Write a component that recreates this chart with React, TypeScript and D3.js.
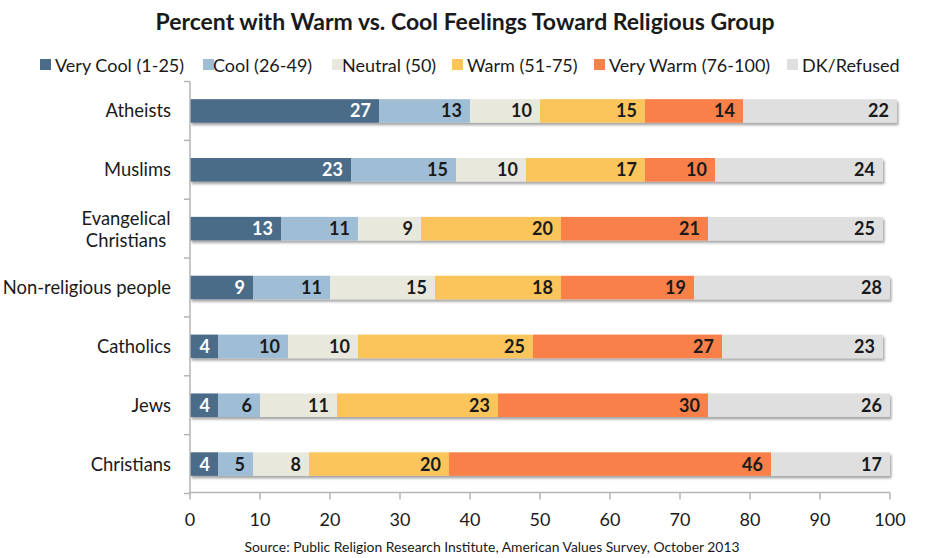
import React from "react";
import * as d3 from "d3";

const categories = ["Atheists", "Muslims", "Evangelical Christians", "Non-religious people", "Catholics", "Jews", "Christians"];
const seriesNames = ["Very Cool (1-25)", "Cool (26-49)", "Neutral (50)", "Warm (51-75)", "Very Warm (76-100)", "DK/Refused"];
const veryCool = [27, 23, 13, 9, 4, 4, 4];
const cool = [13, 15, 11, 11, 10, 6, 5];
const neutral = [10, 10, 9, 15, 10, 11, 8];
const warm = [15, 17, 20, 18, 25, 23, 20];
const veryWarm = [14, 10, 21, 19, 27, 30, 46];
const dkRefused = [22, 24, 25, 28, 23, 26, 17];
const xTicks = [0, 10, 20, 30, 40, 50, 60, 70, 80, 90, 100];
const colors = ["#4b6c88", "#9fbed6", "#e9e8dc", "#fbc55c", "#f9804a", "#dfdfdf"];
const labelColors = ["#ffffff", "#1a1a1a", "#1a1a1a", "#1a1a1a", "#1a1a1a", "#1a1a1a"];

const series = [veryCool, cool, neutral, warm, veryWarm, dkRefused];
const FONT = "Lato, 'Open Sans', sans-serif";

export default function App() {
  const W = 928, H = 558;
  const left = 190, right = 890, top = 81.5, bottom = 493.5;
  const x = d3.scaleLinear().domain([0, 100]).range([left, right]);
  const y = d3.scaleBand().domain(categories).range([top, bottom]).paddingInner(0.6).paddingOuter(0.3);
  const band = d3.scaleBand().domain(categories).range([top, bottom]);
  const legendSq = [40, 203, 332, 452, 594, 787];
  const legendTx = [55, 213, 342, 467, 609, 802];

  return (
    <svg width={W} height={H} style={{ position: "absolute", left: 0, top: 0 }} fontFamily={FONT}>
      <defs>
        <filter id="sh" x="-5%" y="-30%" width="110%" height="170%">
          <feDropShadow dx="1.5" dy="2.5" stdDeviation="1.2" floodColor="#000" floodOpacity="0.35" />
        </filter>
      </defs>
      <rect width={W} height={H} fill="#fff" />
      <text x={465} y={30} textAnchor="middle" fontSize={23} fontWeight="bold" fill="#1a1a1a">
        Percent with Warm vs. Cool Feelings Toward Religious Group
      </text>
      {seriesNames.map((n, i) => (
        <g key={n}>
          <rect x={legendSq[i]} y={59} width={11} height={11} fill={colors[i]} />
          <text x={legendTx[i]} y={72} fontSize={18} fill="#1a1a1a">{n}</text>
        </g>
      ))}
      {categories.map((c, ci) => {
        let acc = 0;
        const segs = series.map((s, si) => {
          const v = s[ci];
          const x0 = acc;
          acc += v;
          return { v, x0, x1: acc, si };
        });
        const yy = y(c)!;
        const h = y.bandwidth();
        return (
          <g key={c}>
            <g filter="url(#sh)">
              {segs.map((s) => (
                <rect key={s.si} x={x(s.x0)} y={yy} width={x(s.x1) - x(s.x0)} height={h} fill={colors[s.si]} />
              ))}
            </g>
            {segs.map((s) => (
              <text key={"t" + s.si} x={x(s.x1) - 8} y={yy + h / 2 + 6.5} textAnchor="end" fontSize={18} fontWeight="bold" fill={labelColors[s.si]}>
                {s.v}
              </text>
            ))}
          </g>
        );
      })}
      {categories.map((c) => {
        const cy = y(c)! + y.bandwidth() / 2;
        if (c === "Evangelical Christians") {
          return (
            <text key={c} textAnchor="middle" fontSize={18.4} fill="#1a1a1a">
              <tspan x={126} y={cy - 4}>Evangelical</tspan>
              <tspan x={126} y={cy + 18}>Christians</tspan>
            </text>
          );
        }
        return (
          <text key={c} x={171} y={cy + 6.5} textAnchor="end" fontSize={18.4} fill="#1a1a1a">{c}</text>
        );
      })}
      <line x1={left} x2={left} y1={top} y2={bottom} stroke="#b5b5b5" strokeWidth={1.5} />
      {[...categories.map((c) => band(c)!), bottom].map((t, i) => (
        <line key={i} x1={left - 6} x2={left} y1={t} y2={t} stroke="#b5b5b5" strokeWidth={1.5} />
      ))}
      <line x1={left} x2={right} y1={bottom - 1} y2={bottom - 1} stroke="#b5b5b5" strokeWidth={1.5} />
      {xTicks.map((t) => (
        <g key={t}>
          <line x1={x(t)} x2={x(t)} y1={bottom - 1} y2={bottom + 6} stroke="#b5b5b5" strokeWidth={1.5} />
          <text x={x(t)} y={526} textAnchor="middle" fontSize={18} fill="#1a1a1a">{t}</text>
        </g>
      ))}
      <text x={492} y={552} textAnchor="middle" fontSize={13.9} fill="#1a1a1a">
        Source: Public Religion Research Institute, American Values Survey, October 2013
      </text>
    </svg>
  );
}
